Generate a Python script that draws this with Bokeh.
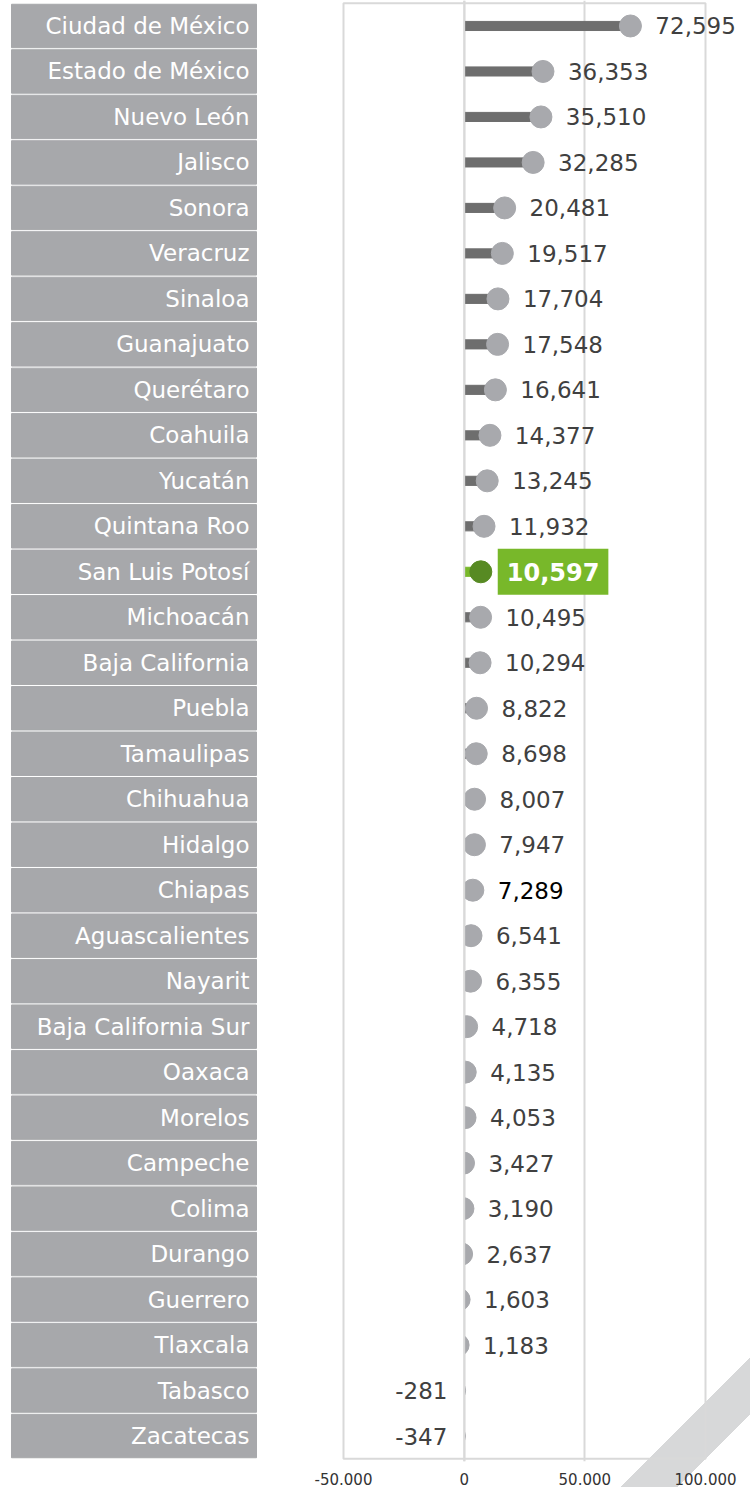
from bokeh.plotting import figure
from bokeh.layouts import row
from bokeh.models import (Range1d, FactorRange, FixedTicker, Span, BoxAnnotation,
                          ColumnDataSource, LabelSet)
from bokeh.transform import dodge
from bokeh.core.properties import value
from bokeh.embed import file_html
from bokeh.resources import INLINE

# ---------------- data ----------------
states = [
    "Ciudad de México", "Estado de México", "Nuevo León", "Jalisco", "Sonora",
    "Veracruz", "Sinaloa", "Guanajuato", "Querétaro", "Coahuila", "Yucatán",
    "Quintana Roo", "San Luis Potosí", "Michoacán", "Baja California", "Puebla",
    "Tamaulipas", "Chihuahua", "Hidalgo", "Chiapas", "Aguascalientes", "Nayarit",
    "Baja California Sur", "Oaxaca", "Morelos", "Campeche", "Colima", "Durango",
    "Guerrero", "Tlaxcala", "Tabasco", "Zacatecas",
]
values = [
    72595, 36353, 35510, 32285, 20481, 19517, 17704, 17548, 16641, 14377, 13245,
    11932, 10597, 10495, 10294, 8822, 8698, 8007, 7947, 7289, 6541, 6355, 4718,
    4135, 4053, 3427, 3190, 2637, 1603, 1183, -281, -347,
]
highlight = "San Luis Potosí"
black_label = "Chiapas"
tick_values = [-50000, 0, 50000, 100000]
tick_labels = ["-50.000", "0", "50.000", "100.000"]

# ---------------- styles ----------------
FONT = "DejaVu Sans"
LABEL_BG = "#a7a8ab"
DOT = "#a8a9ad"
STEM = "#6e6e6e"
GREEN = "#78b82a"
DARK_GREEN = "#578a23"
GRID = "#d9d9d9"
STRIPE = "#d7d8d9"
FRAME_H = 1461
UNITS_PER_PX = 150000 / 362

y_range = FactorRange(factors=list(reversed(states)), range_padding=0.06,
                      range_padding_units="absolute")

# ---------------- left label panel ----------------
left = figure(frame_width=300, frame_height=FRAME_H, x_range=Range1d(0, 300),
              y_range=y_range, output_backend="svg", toolbar_location=None,
              min_border=0, x_axis_location=None, y_axis_location=None)
left.outline_line_color = None
left.grid.visible = False
left.hbar(y=states, left=11, right=256, height=0.955, color=LABEL_BG)
left.text(x=249, y=states, text=states, text_align="right", text_baseline="middle",
          text_color="white", text_font=value(FONT), text_font_size="23px")

# ---------------- lollipop chart ----------------
x_start = tick_values[0] - 2 * UNITS_PER_PX
x_end = x_start + 409 * UNITS_PER_PX
p = figure(frame_width=409, frame_height=FRAME_H, x_range=Range1d(x_start, x_end),
           y_range=y_range, output_backend="svg", toolbar_location=None,
           min_border=0, min_border_left=41, y_axis_location=None)
p.outline_line_color = None
p.border_fill_color = None
p.background_fill_color = None
p.ygrid.visible = False
p.xgrid.ticker = FixedTicker(ticks=tick_values[1:-1])
p.xgrid.grid_line_color = GRID
p.xgrid.grid_line_width = 2
p.xaxis.ticker = FixedTicker(ticks=tick_values)
p.xaxis.major_label_overrides = dict(zip(tick_values, tick_labels))
p.xaxis.axis_line_color = None
p.xaxis.major_tick_line_color = None
p.xaxis.minor_tick_line_color = None
p.xaxis.major_label_standoff = 5
p.xaxis.major_label_text_font = FONT
p.xaxis.major_label_text_font_size = "15px"
p.xaxis.major_label_text_color = "#333333"

stem_colors = [GREEN if s == highlight else STEM for s in states]
dot_colors = [DARK_GREEN if s == highlight else DOT for s in states]
data = dict(state=states, val=values, stem_color=stem_colors, dot_color=dot_colors)

p.hbar(y="state", left=0, right="val", height=0.2, color="stem_color", source=data)
p.scatter(x=dodge("val", -3700, range=p.x_range), y="state", size=22,
          color="dot_color", source=data)
# mask left of zero (dots are clipped at the zero line)
p.hbar(y=states, left=x_start, right=0, height=1.02, color="white")
p.add_layout(Span(location=0, dimension="height", line_color=GRID, line_width=2))
# plot-area border
p.add_layout(BoxAnnotation(left=tick_values[0], right=tick_values[-1], bottom=0,
                           top=len(states), fill_color=None, fill_alpha=0,
                           line_color=GRID, line_alpha=1.0, line_width=2))

pos_s = [s for s, v in zip(states, values) if v >= 0 and s != highlight]
pos_v = [v for s, v in zip(states, values) if v >= 0 and s != highlight]
pos_c = ["#000000" if s == black_label else "#404040" for s in pos_s]
neg_s = [s for s, v in zip(states, values) if v < 0]
neg_v = [v for s, v in zip(states, values) if v < 0]
hv = [v for s, v in zip(states, values) if s == highlight]

pos_src = ColumnDataSource(dict(x=pos_v, y=pos_s, t=[f"{v:,}" for v in pos_v], c=pos_c))
neg_src = ColumnDataSource(dict(x=neg_v, y=neg_s, t=[f"{v:,}" for v in neg_v]))

p.add_layout(LabelSet(x="x", y="y", text="t", source=pos_src, x_offset=16,
                      text_align="left", text_baseline="middle", text_color="c",
                      text_font=value(FONT), text_font_size="23px"))
p.add_layout(LabelSet(x="x", y="y", text="t", source=neg_src, x_offset=-16,
                      text_align="right", text_baseline="middle",
                      text_color="#404040", text_font=value(FONT),
                      text_font_size="23px"))
p.text(x=hv, y=[highlight], text=[f"{v:,}" for v in hv], x_offset=8,
       text_align="left", text_baseline="middle", text_color="white",
       text_font=value(FONT), text_font_size="24px", text_font_style="bold",
       background_fill_color=GREEN, padding=(9, 14))

layout = row(left, p)
html = file_html(layout, INLINE)
# decorative diagonal stripe in the bottom-right corner of the page
css = ("<style>html{height:100%;background:#ffffff linear-gradient(135deg,"
       "#ffffff 0px,#ffffff 1489.9px," + STRIPE + " 1489.9px," + STRIPE +
       " 1530.2px,#ffffff 1530.2px) no-repeat;}</style>")
html = html.replace("</head>", css + "</head>", 1)
open("out.html", "w").write(html)
